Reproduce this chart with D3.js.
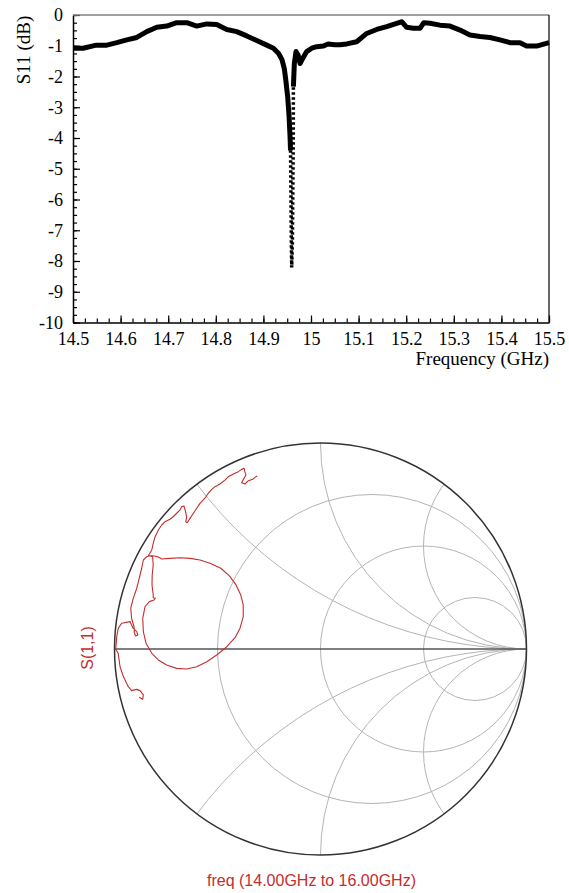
<!DOCTYPE html>
<html>
<head>
<meta charset="utf-8">
<script src="https://cdn.jsdelivr.net/npm/d3@7"></script>
<style>
body { margin: 0; background: #fff; }
svg { display: block; }
</style>
</head>
<body>
<div id="chart"></div>
<script>
// measured S11 magnitude, 14.5 - 15.5 GHz
const freqGHz = [14.500, 14.521, 14.549, 14.571, 14.592, 14.613, 14.634, 14.655, 14.676, 14.697,
  14.718, 14.739, 14.760, 14.781, 14.802, 14.823, 14.844, 14.865, 14.886, 14.907,
  14.921, 14.932, 14.939, 14.944, 14.947, 14.951, 14.954, 14.956, 14.957, 14.958,
  14.9586, 14.9594, 14.961, 14.962, 14.9628, 14.963, 14.965, 14.9685, 14.973, 14.977,
  14.9826, 14.991, 15.0015, 15.012, 15.026, 15.036, 15.050, 15.061, 15.075, 15.096,
  15.117, 15.138, 15.159, 15.180, 15.191, 15.201, 15.215, 15.229, 15.237, 15.250,
  15.271, 15.292, 15.313, 15.334, 15.355, 15.376, 15.397, 15.418, 15.439, 15.453,
  15.474, 15.500];
const s11dB = [-1.08, -1.08, -0.98, -0.98, -0.90, -0.81, -0.73, -0.54, -0.40, -0.36,
  -0.25, -0.25, -0.36, -0.29, -0.31, -0.47, -0.54, -0.68, -0.83, -0.98,
  -1.08, -1.25, -1.45, -1.75, -2.11, -2.66, -3.31, -3.96, -4.40, -6.00,
  -7.31, -8.21, -7.31, -5.36, -3.96, -2.33, -1.57, -1.19, -1.30, -1.58,
  -1.41, -1.19, -1.08, -1.03, -1.01, -0.94, -0.97, -0.97, -0.94, -0.87,
  -0.60, -0.47, -0.38, -0.27, -0.22, -0.40, -0.43, -0.43, -0.25, -0.27,
  -0.33, -0.36, -0.49, -0.65, -0.70, -0.73, -0.81, -0.90, -0.90, -1.01,
  -1.01, -0.90];
// the steep part of the dip is sparse and shows as dots
const dipFrom = 28, dipTo = 35;

const xTicks = [14.5, 14.6, 14.7, 14.8, 14.9, 15, 15.1, 15.2, 15.3, 15.4, 15.5];
const yTicks = [0, -1, -2, -3, -4, -5, -6, -7, -8, -9, -10];

// S(1,1) on the Smith chart, 14 - 16 GHz (reflection coefficient)
const gammaRe = [-0.880, -0.863, -0.860, -0.876, -0.892, -0.917, -0.933, -0.957, -0.973, -0.982,
  -0.995, -0.993, -0.989, -0.982, -0.965, -0.925, -0.909, -0.892, -0.887, -0.897,
  -0.904, -0.905, -0.917, -0.921, -0.909, -0.892, -0.880, -0.868, -0.860, -0.844,
  -0.831, -0.815, -0.812, -0.817, -0.818, -0.812, -0.812, -0.802, -0.808, -0.831,
  -0.852, -0.863, -0.860, -0.847, -0.819, -0.787, -0.747, -0.698, -0.650, -0.601,
  -0.552, -0.504, -0.455, -0.415, -0.391, -0.375, -0.375, -0.387, -0.410, -0.443,
  -0.484, -0.536, -0.585, -0.633, -0.682, -0.731, -0.771, -0.787, -0.812, -0.836,
  -0.819, -0.812, -0.803, -0.787, -0.771, -0.755, -0.731, -0.715, -0.698, -0.682,
  -0.674, -0.663, -0.658, -0.653, -0.650, -0.654, -0.647, -0.633, -0.617, -0.601,
  -0.585, -0.561, -0.545, -0.528, -0.512, -0.488, -0.464, -0.448, -0.423, -0.399,
  -0.383, -0.371, -0.367, -0.362, -0.371, -0.383, -0.367, -0.350, -0.329, -0.318,
  -0.307];
const gammaIm = [-0.234, -0.244, -0.223, -0.202, -0.196, -0.202, -0.183, -0.134, -0.086, -0.021,
  0.000, 0.011, 0.060, 0.100, 0.125, 0.133, 0.100, 0.084, 0.068, 0.063,
  0.079, 0.108, 0.149, 0.198, 0.246, 0.295, 0.343, 0.392, 0.432, 0.448,
  0.453, 0.448, 0.408, 0.359, 0.311, 0.262, 0.249, 0.246, 0.238, 0.230,
  0.205, 0.149, 0.084, 0.028, -0.021, -0.053, -0.078, -0.094, -0.097, -0.086,
  -0.062, -0.029, 0.011, 0.055, 0.100, 0.157, 0.214, 0.262, 0.311, 0.356,
  0.392, 0.416, 0.432, 0.440, 0.443, 0.440, 0.437, 0.447, 0.453, 0.453,
  0.481, 0.513, 0.545, 0.578, 0.602, 0.618, 0.630, 0.642, 0.659, 0.675,
  0.691, 0.694, 0.678, 0.659, 0.639, 0.618, 0.613, 0.634, 0.659, 0.683,
  0.707, 0.732, 0.756, 0.775, 0.788, 0.801, 0.820, 0.836, 0.850, 0.861,
  0.872, 0.877, 0.861, 0.845, 0.829, 0.807, 0.801, 0.817, 0.824, 0.833,
  0.840];

// Smith chart grid
const smithR = [1 / 3, 1, 3];
const smithX = [0.5, 1, 2, -0.5, -1, -2];

const RED = '#c42d2d';

const svg = d3.select('#chart').append('svg').attr('width', 569).attr('height', 893);

// ---------- S11 (dB) plot ----------
const x = d3.scaleLinear().domain([14.5, 15.5]).range([73, 549]);
const y = d3.scaleLinear().domain([-10, 0]).range([322.5, 15]);
const serif = '"Liberation Serif", "Times New Roman", serif';

const fmt = d => String(+d.toFixed(1));

const xMinor = svg.append('g').attr('transform', 'translate(0,322.5)')
  .call(d3.axisBottom(x).tickValues(d3.range(14.5, 15.5001, 0.025)).tickSize(-4).tickFormat(''));
xMinor.select('.domain').remove();
const yMinor = svg.append('g').attr('transform', 'translate(73,0)')
  .call(d3.axisLeft(y).tickValues(d3.range(-10, 0.0001, 0.25)).tickSize(-4).tickFormat(''));
yMinor.select('.domain').remove();

const xAxis = svg.append('g').attr('transform', 'translate(0,322.5)')
  .call(d3.axisBottom(x).tickValues(xTicks).tickSize(-7).tickSizeOuter(0).tickPadding(10).tickFormat(fmt));
const yAxis = svg.append('g').attr('transform', 'translate(73,0)')
  .call(d3.axisLeft(y).tickValues(yTicks).tickSize(-7).tickSizeOuter(0).tickPadding(10).tickFormat(d => String(d)));

[xAxis, yAxis].forEach(a => {
  a.attr('font-family', serif).attr('font-size', 18);
  a.selectAll('text').attr('fill', '#000');
  a.select('.domain').attr('stroke-width', 1.5);
  a.selectAll('.tick line').attr('stroke-width', 1.2);
});
yAxis.selectAll('text').attr('dy', '0.33em');
[xMinor, yMinor].forEach(a => a.selectAll('.tick line').attr('stroke-width', 1.2));

// frame: grey top, black right
svg.append('line').attr('x1', x(14.5)).attr('x2', x(15.5)).attr('y1', y(0)).attr('y2', y(0))
  .attr('stroke', '#808080').attr('stroke-width', 1.5);
svg.append('line').attr('x1', x(15.5)).attr('x2', x(15.5)).attr('y1', y(0)).attr('y2', y(-10))
  .attr('stroke', '#000').attr('stroke-width', 1.2);

const pts = freqGHz.map((f, i) => ({ f: f, v: s11dB[i] }));
const line = d3.line().x(d => x(d.f)).y(d => y(d.v));

svg.append('path').datum(pts.slice(0, dipFrom + 1)).attr('d', line)
  .attr('fill', 'none').attr('stroke', '#000').attr('stroke-width', 5).attr('stroke-linejoin', 'round');
svg.append('path').datum(pts.slice(dipTo)).attr('d', line)
  .attr('fill', 'none').attr('stroke', '#000').attr('stroke-width', 5).attr('stroke-linejoin', 'round');
svg.append('path').datum(pts.slice(dipFrom, dipTo + 1)).attr('d', line)
  .attr('fill', 'none').attr('stroke', '#000').attr('stroke-width', 3.5)
  .attr('stroke-dasharray', '2.5,2.5');

svg.append('text').attr('transform', 'translate(30,50) rotate(-90)')
  .attr('text-anchor', 'middle').attr('font-family', serif).attr('font-size', 19)
  .text('S11 (dB)');
svg.append('text').attr('x', 549).attr('y', 365).attr('text-anchor', 'end')
  .attr('font-family', serif).attr('font-size', 19).text('Frequency (GHz)');

// ---------- Smith chart ----------
const cx = 320.5, cy = 649, R = 206;
const gx = d3.scaleLinear().domain([-1, 1]).range([cx - R, cx + R]);
const gy = d3.scaleLinear().domain([-1, 1]).range([cy + R, cy - R]);

svg.append('defs').append('clipPath').attr('id', 'unit')
  .append('circle').attr('cx', cx).attr('cy', cy).attr('r', R);

const grid = svg.append('g').attr('clip-path', 'url(#unit)')
  .attr('fill', 'none').attr('stroke', '#b4b4b4').attr('stroke-width', 1);

grid.selectAll('.rc').data(smithR).enter().append('circle')
  .attr('cx', r => gx(r / (1 + r))).attr('cy', gy(0))
  .attr('r', r => gx(1 / (1 + r)) - gx(0));

grid.selectAll('.xc').data(smithX).enter().append('circle')
  .attr('cx', gx(1)).attr('cy', v => gy(1 / v))
  .attr('r', v => gx(1 / Math.abs(v)) - gx(0));

svg.append('line').attr('x1', gx(-1)).attr('x2', gx(1)).attr('y1', gy(0)).attr('y2', gy(0))
  .attr('stroke', '#555').attr('stroke-width', 1.5);
svg.append('circle').attr('cx', cx).attr('cy', cy).attr('r', R)
  .attr('fill', 'none').attr('stroke', '#333').attr('stroke-width', 1.5);

const gamma = gammaRe.map((re, i) => [re, gammaIm[i]]);
svg.append('path').datum(gamma)
  .attr('d', d3.line().x(d => gx(d[0])).y(d => gy(d[1])))
  .attr('fill', 'none').attr('stroke', RED).attr('stroke-width', 1.1).attr('stroke-linejoin', 'round');

const sans = '"Liberation Sans", Arial, sans-serif';
svg.append('text').attr('transform', 'translate(93,648) rotate(-90)')
  .attr('text-anchor', 'middle').attr('font-family', sans).attr('font-size', 16)
  .attr('fill', RED).text('S(1,1)');
svg.append('text').attr('x', 311.5).attr('y', 886).attr('text-anchor', 'middle')
  .attr('font-family', sans).attr('font-size', 16).attr('fill', RED)
  .text('freq (14.00GHz to 16.00GHz)');
</script>
</body>
</html>
